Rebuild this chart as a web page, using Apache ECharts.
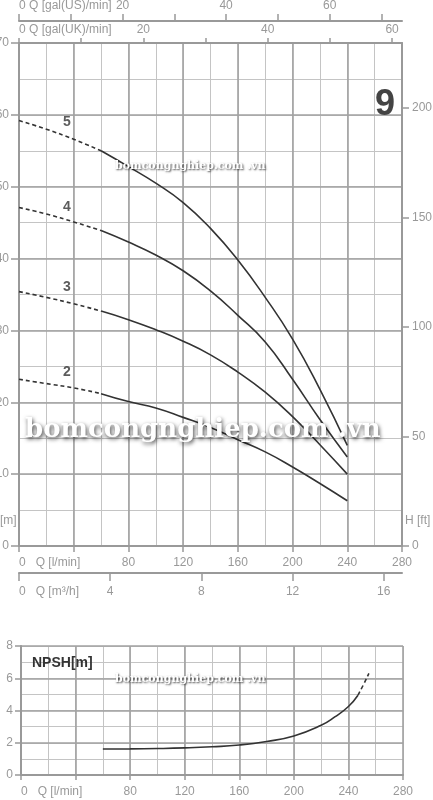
<!DOCTYPE html>
<html>
<head>
<meta charset="utf-8">
<script src="https://cdn.jsdelivr.net/npm/echarts@6/dist/echarts.min.js"></script>
<style>
  html, body { margin: 0; padding: 0; background: #fff; }
  #pump_chart { width: 433px; height: 800px; }
</style>
</head>
<body>
<div id="pump_chart"></div>
<script>
// flow points in l/min, head in m for each stage count
const flow = [0, 20, 40, 60, 80, 100, 120, 140, 160, 180, 200, 220, 240]
const head5 = [59.2, 58.0, 56.6, 55.0, 52.8, 50.5, 47.8, 44.2, 39.8, 34.6, 28.8, 21.8, 14.0]
const head4 = [47.1, 46.2, 45.1, 43.9, 42.3, 40.5, 38.3, 35.5, 32.1, 28.4, 23.2, 17.6, 12.4]
const head3 = [35.4, 34.6, 33.7, 32.7, 31.5, 30.1, 28.5, 26.6, 24.2, 21.4, 18.0, 14.1, 10.0]
const head2 = [23.2, 22.6, 22.0, 21.2, 20.1, 19.2, 17.9, 16.5, 14.8, 13.1, 11.0, 8.7, 6.3]
const stageNames = ['5', '4', '3', '2']
const stageLabelQ = 35
const stageLabelH = [59.0, 47.1, 36.0, 24.2]

const npshFlow = [60, 80, 100, 120, 140, 160, 180, 200, 220, 230, 240, 247]
const npshHead = [1.61, 1.62, 1.64, 1.68, 1.75, 1.86, 2.08, 2.42, 3.08, 3.6, 4.25, 4.95]
const npshDashFlow = [247, 251, 255]
const npshDashHead = [4.95, 5.6, 6.3]

// tick values for the secondary scales
const galUkTicks = [0, 10, 20, 30, 40, 50, 60]
const galUkLabels = [0, 20, 40, 60]
const galUsTicks = [0, 10, 20, 30, 40, 50, 60, 70]
const galUsLabels = [0, 20, 40, 60]
const m3hTicks = [0, 4, 8, 12, 16]
const ftTicks = [0, 50, 100, 150, 200]

const LPM_PER_GAL_UK = 4.54609
const LPM_PER_GAL_US = 3.78541
const M_PER_FT = 0.3048

const gray = '#999'
const major = { color: '#a2a2a2', width: 1.6 }
const labelFont = { color: gray, fontSize: 12, fontFamily: 'Liberation Sans, Arial, sans-serif' }

function pairs(xs, ys) {
  return xs.map((x, i) => [x, ys[i]])
}

function curveSeries(heads) {
  const dashed = pairs(flow.slice(0, 4), heads.slice(0, 4))
  const solid = pairs(flow.slice(3), heads.slice(3))
  return [
    {
      type: 'line', xAxisIndex: 0, yAxisIndex: 0, data: dashed,
      smooth: true, symbol: 'none',
      lineStyle: { color: '#333', width: 1.6, type: [4, 3] }
    },
    {
      type: 'line', xAxisIndex: 0, yAxisIndex: 0, data: solid,
      smooth: true, symbol: 'none',
      lineStyle: { color: '#333', width: 1.6 }
    }
  ]
}

function valueAxis(extra) {
  return Object.assign({
    type: 'value', z: 1,
    axisLine: { show: true, onZero: false, lineStyle: { color: gray, width: 2 } },
    axisTick: { show: true, lineStyle: { color: gray, width: 1.5 } },
    axisLabel: Object.assign({}, labelFont),
    splitLine: { show: false }
  }, extra)
}

// hidden axis that only draws the thin in-between grid lines (under the major ones)
function minorAxis(gridIndex, max, interval) {
  return {
    type: 'value', gridIndex, min: 0, max, interval, z: 0,
    axisLine: { show: false, onZero: false }, axisTick: { show: false }, axisLabel: { show: false },
    splitLine: { show: true, lineStyle: { color: '#c4c4c4', width: 1 } }
  }
}

const lpmLabel = v => (v === 0 ? '0   Q [l/min]' : v === 40 ? '' : v)

const charts = echarts.init(document.getElementById('pump_chart'))
charts.setOption({
  animation: false,
  backgroundColor: '#fff',
  grid: [
    { left: 19, top: 43, width: 383, height: 503, outerBoundsMode: 'none' },
    { left: 21, top: 646, width: 382, height: 129, outerBoundsMode: 'none' }
  ],
  xAxis: [
    valueAxis({
      gridIndex: 0, position: 'bottom', min: 0, max: 280, interval: 40,
      axisTick: { length: 6, lineStyle: { color: gray, width: 1.5 } },
      axisLabel: Object.assign({}, labelFont, { margin: 11, formatter: lpmLabel, alignMinLabel: 'left' }),
      splitLine: { show: true, lineStyle: major }
    }),
    valueAxis({
      gridIndex: 0, position: 'top', offset: 0, min: 0, max: 280 / LPM_PER_GAL_UK,
      axisTick: { length: 5, customValues: galUkTicks, lineStyle: { color: gray, width: 1.5 } },
      axisLabel: Object.assign({}, labelFont, {
        margin: 7, customValues: galUkLabels, alignMinLabel: 'left',
        formatter: v => (v === 0 ? '0 Q [gal(UK)/min]' : v)
      })
    }),
    valueAxis({
      gridIndex: 0, position: 'top', offset: 22, min: 0, max: 280 / LPM_PER_GAL_US,
      axisTick: { length: 7, customValues: galUsTicks, lineStyle: { color: gray, width: 1.5 } },
      axisLabel: Object.assign({}, labelFont, {
        margin: 9, customValues: galUsLabels, alignMinLabel: 'left',
        formatter: v => (v === 0 ? '0 Q [gal(US)/min]' : v)
      })
    }),
    valueAxis({
      gridIndex: 0, position: 'bottom', offset: 27, min: 0, max: 280 * 0.06,
      axisTick: { length: 8, customValues: m3hTicks, lineStyle: { color: gray, width: 1.5 } },
      axisLabel: Object.assign({}, labelFont, {
        margin: 13, customValues: m3hTicks, alignMinLabel: 'left',
        formatter: v => (v === 0 ? '0   Q [m³/h]' : v)
      })
    }),
    valueAxis({
      gridIndex: 1, position: 'bottom', min: 0, max: 280, interval: 40,
      axisTick: { length: 5, lineStyle: { color: gray, width: 1.5 } },
      axisLabel: Object.assign({}, labelFont, { margin: 11, formatter: lpmLabel, alignMinLabel: 'left' }),
      splitLine: { show: true, lineStyle: major }
    }),
    minorAxis(0, 280, 20),
    minorAxis(1, 280, 20)
  ],
  yAxis: [
    valueAxis({
      gridIndex: 0, position: 'left', min: 0, max: 70, interval: 10,
      axisTick: { length: 8, lineStyle: { color: gray, width: 1.5 } },
      axisLabel: Object.assign({}, labelFont, { margin: 10 }),
      splitLine: { show: true, lineStyle: major }
    }),
    valueAxis({
      gridIndex: 0, position: 'right', min: 0, max: 70 / M_PER_FT,
      axisTick: { length: 7, customValues: ftTicks, lineStyle: { color: gray, width: 1.5 } },
      axisLabel: Object.assign({}, labelFont, { margin: 10, customValues: ftTicks })
    }),
    valueAxis({
      gridIndex: 1, position: 'left', min: 0, max: 8, interval: 2,
      axisTick: { length: 6, lineStyle: { color: gray, width: 1.5 } },
      axisLabel: Object.assign({}, labelFont, { margin: 8 }),
      splitLine: { show: true, lineStyle: major }
    }),
    minorAxis(0, 70, 5),
    minorAxis(1, 8, 1)
  ],
  series: [
    ...curveSeries(head5),
    ...curveSeries(head4),
    ...curveSeries(head3),
    ...curveSeries(head2),
    {
      type: 'scatter', xAxisIndex: 0, yAxisIndex: 0, symbolSize: 0,
      data: stageNames.map((n, i) => ({ name: n, value: [stageLabelQ, stageLabelH[i]] })),
      label: {
        show: true, position: 'inside', formatter: '{b}',
        color: '#333', fontSize: 14, fontWeight: 'bold', fontFamily: 'Liberation Sans, Arial, sans-serif'
      }
    },
    {
      type: 'line', xAxisIndex: 4, yAxisIndex: 2, data: pairs(npshFlow, npshHead),
      smooth: true, symbol: 'none',
      lineStyle: { color: '#333', width: 1.6 }
    },
    {
      type: 'line', xAxisIndex: 4, yAxisIndex: 2, data: pairs(npshDashFlow, npshDashHead),
      smooth: true, symbol: 'none',
      lineStyle: { color: '#333', width: 1.6, type: [4, 3] }
    }
  ],
  graphic: [
    {
      type: 'text', left: 375, top: 87, z: 50,
      style: { text: '9', x: 0, y: 0, align: 'center', verticalAlign: 'middle',
        font: 'bold 36px "Liberation Sans", Arial, sans-serif', fill: '#444' }
    },
    {
      type: 'text', left: 32, top: 656, z: 50,
      style: { text: 'NPSH[m]', font: 'bold 14px "Liberation Sans", Arial, sans-serif', fill: '#333' }
    },
    {
      type: 'text', left: 0, top: 515, z: 50,
      style: { text: '[m]', font: '12px "Liberation Sans", Arial, sans-serif', fill: gray }
    },
    {
      type: 'text', left: 405, top: 515, z: 50,
      style: { text: 'H [ft]', font: '12px "Liberation Sans", Arial, sans-serif', fill: gray }
    },
    // watermarks
    {
      type: 'text', left: 25, top: 417, z: 100,
      style: { text: 'bomcongnghiep.com .vn', font: 'bold 26px "DejaVu Serif", serif', fill: '#fff',
        textShadowColor: 'rgba(0,0,0,0.75)', textShadowBlur: 4, textShadowOffsetX: 1, textShadowOffsetY: 2 }
    },
    {
      type: 'text', left: 115, top: 161, z: 100,
      style: { text: 'bomcongnghiep.com .vn', font: 'bold 11px "DejaVu Serif", serif', fill: '#fff',
        textShadowColor: 'rgba(0,0,0,0.7)', textShadowBlur: 2, textShadowOffsetX: 1, textShadowOffsetY: 1 }
    },
    {
      type: 'text', left: 115, top: 674, z: 100,
      style: { text: 'bomcongnghiep.com .vn', font: 'bold 11px "DejaVu Serif", serif', fill: '#fff',
        textShadowColor: 'rgba(0,0,0,0.7)', textShadowBlur: 2, textShadowOffsetX: 1, textShadowOffsetY: 1 }
    }
  ]
})
</script>
</body>
</html>
